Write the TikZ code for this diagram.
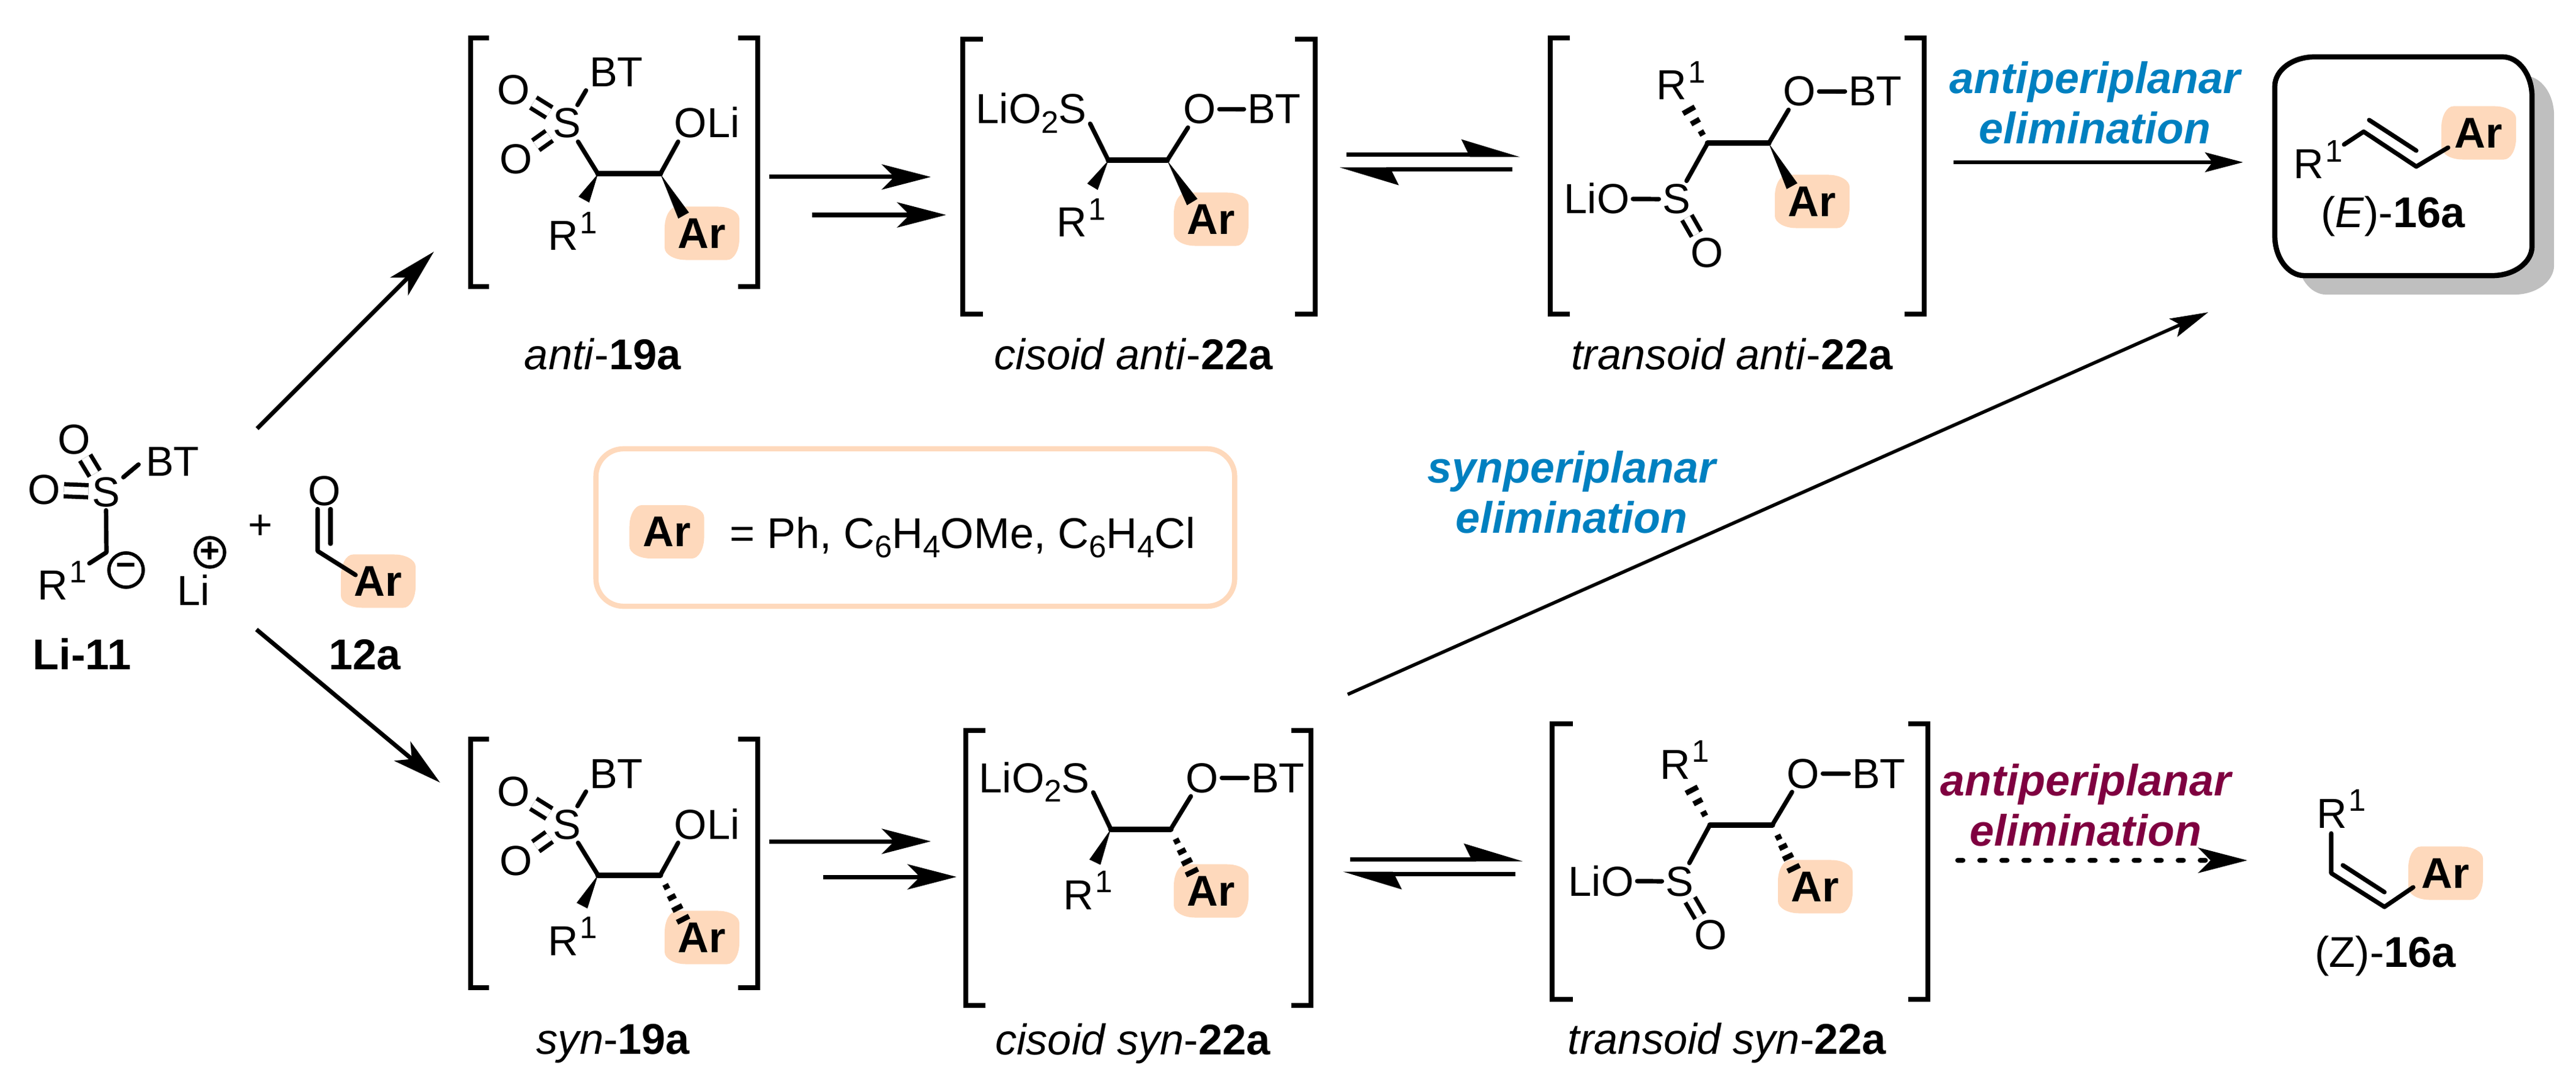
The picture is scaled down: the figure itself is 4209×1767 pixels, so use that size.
\documentclass[tikz,border=0pt]{standalone}
\usepackage{fontspec}
\setmainfont{Liberation Sans}
\usetikzlibrary{calc,arrows.meta,shadows}

\definecolor{pillcolor}{HTML}{FED9BC}
\definecolor{elimblue}{HTML}{0080C0}
\definecolor{elimred}{HTML}{7F0040}
\definecolor{shadowgray}{HTML}{BFBFBF}

\newcommand{\atomfont}{\fontsize{19.5}{23}\selectfont}
\newcommand{\namefont}{\fontsize{20}{24}\selectfont}
\newcommand{\lowernum}[1]{\raisebox{-0.22em}{\fontsize{14.5}{15}\selectfont #1}}
\newcommand{\raisenum}{\kern0.03em\raisebox{0.4em}{\fontsize{14.5}{15}\selectfont 1}}

\tikzset{
  atom/.style={font=\atomfont,inner sep=.05cm,anchor=base},
  atomw/.style={atom,anchor=base west},
  cpdname/.style={font=\namefont,inner sep=0pt,anchor=base},
  elimtext/.style={font=\fontsize{20.4}{23.5}\selectfont\bfseries\itshape,align=center,inner sep=0pt},
  barrel/.code={\pgfsetcornersarced{\pgfpoint{.2cm}{.35cm}}},
  wideround/.code={\pgfsetcornersarced{\pgfpoint{.65cm}{.48cm}}},
  arpill/.style={font=\namefont\bfseries,fill=pillcolor,barrel,minimum width=1.22cm,minimum height=.87cm,inner sep=0pt},
  chg/.style={draw,circle,line width=.055cm,inner sep=0pt,font=\fontsize{16}{16}\selectfont\bfseries},
  bond/.style={line width=.072cm,line cap=round,line join=round},
  cbond/.style={line width=.09cm,line cap=round},
  dbond/.style={double,double distance=.13cm,line width=.068cm},
  brk/.style={line width=.075cm,line join=miter},
  rxn/.style={line width=.07cm,-{Stealth[length=.8cm,width=.41cm,inset=.2cm]}},
  rxnthin/.style={line width=.055cm,-{Stealth[length=.62cm,width=.32cm,inset=.12cm]}},
  eqarrow/.style={line width=.07cm,-{Stealth[harpoon,length=.84cm,width=.5cm,inset=.12cm]}},
  dotarrow/.style={line width=.085cm,line cap=round,dash pattern=on .08cm off .28cm,-{Stealth[length=.8cm,width=.41cm,inset=.2cm]}}
}

\newcommand{\wedgebond}[2]{\fill (#1) -- ($(#2)!0.1cm!90:(#1)$) -- ($(#2)!0.1cm!-90:(#1)$) -- cycle;}
\newcommand{\hashbond}[3]{\foreach \hf/\hw in {#3}{
  \coordinate (hp) at ($(#1)!\hf!(#2)$);
  \draw[line width=.085cm] ($(hp)!\hw cm!90:(#2)$) -- ($(hp)!\hw cm!-90:(#2)$);}}

\begin{document}
\begin{tikzpicture}[x=.01cm,y=-.01cm]
\useasboundingbox (0,0) rectangle (4209,1767);

% starting materials
\node[atom] (liS) at (173,827) {S};
\node[atom] (liO1) at (121,741) {O};
\node[atom] (liO2) at (72,823) {O};
\node[atom] (liBT) at (282,777) {BT};
\node[atomw] (liR) at (56,979) {R\raisenum};
\node[chg,minimum size=.56cm] (liMinus) at (206,931) {−};
\node[chg,minimum size=.48cm] (liPlus) at (343,902) {+};
\node[atom] (liLi) at (316,988) {Li};
\node[cpdname,font=\namefont\bfseries] (liName) at (134,1093) {Li-11};
\coordinate (liC) at (174,902);
\coordinate (liRend) at (146,920);
\draw[dbond] (liS) -- (liO1);
\draw[dbond] (liS) -- (liO2);
\draw[bond,shorten >=.08cm] (liS) -- (liBT.west);
\draw[bond] (liS) -- (liC) -- (liRend);

\node[atom] (plus) at (426,880) {+};
\node[atom] (aldO) at (530,825) {O};
\node[arpill] (aldAr) at (618,949) {Ar};
\node[cpdname,font=\namefont\bfseries] (aldName) at (596,1093) {12a};
\coordinate (aldC) at (519,900);
\coordinate (aldD) at (540,888);
\coordinate (aldEnd) at (581,939);
\draw[bond] (aldO.south -| aldC) -- (aldC) -- (aldEnd);
\draw[bond] (aldO.south -| aldD) -- (aldD);

\coordinate (upS) at (420,700);
\coordinate (upE) at (709,411);
\coordinate (downS) at (419,1028);
\coordinate (downE) at (719,1278);
\draw[rxn] (upS) -- (upE);
\draw[rxn] (downS) -- (downE);

% anti-19a
\draw[brk] (799,62) -- (769,62) -- (769,468) -- (799,468);
\draw[brk] (1206,62) -- (1238,62) -- (1238,468) -- (1206,468);
\node[atom] (aS) at (926,225) {S};
\node[atom] (aBT) at (1007,142) {BT};
\node[atom] (aO1) at (839,171) {O};
\node[atom] (aO2) at (843,284) {O};
\node[atomw] (aOLi) at (1096,225) {OLi};
\node[atomw] (aR) at (890,409) {R\raisenum};
\node[arpill] (aAr) at (1147,381) {Ar};
\coordinate (aC1) at (977,284);
\coordinate (aC2) at (1079,284);
\draw[dbond] (aS) -- (aO1);
\draw[dbond] (aS) -- (aO2);
\draw[bond] (aS) -- (aBT.south west);
\draw[bond] (aS) -- (aC1);
\draw[bond] ([xshift=.12cm]aOLi.south west) -- (aC2);
\draw[cbond] (aC1) -- (aC2);
\coordinate (aW1) at (954,326);
\coordinate (aW2) at (1117,352);
\wedgebond{aC1}{aW1}
\wedgebond{aC2}{aW2}
\node[cpdname] (aName) at (985,603) {\textit{anti}-\textbf{19a}};

\coordinate (aA1) at (1257,289);
\coordinate (aA2) at (1521,289);
\coordinate (aB1) at (1327,351);
\coordinate (aB2) at (1546,351);
\draw[rxn] (aA1) -- (aA2);
\draw[rxn] (aB1) -- (aB2);

% syn-19a
\draw[brk] (799,1207) -- (769,1207) -- (769,1613) -- (799,1613);
\draw[brk] (1206,1207) -- (1238,1207) -- (1238,1613) -- (1206,1613);
\node[atom] (sS) at (926,1370) {S};
\node[atom] (sBT) at (1007,1287) {BT};
\node[atom] (sO1) at (839,1316) {O};
\node[atom] (sO2) at (843,1429) {O};
\node[atomw] (sOLi) at (1096,1370) {OLi};
\node[atomw] (sR) at (890,1560) {R\raisenum};
\node[arpill] (sAr) at (1147,1531) {Ar};
\coordinate (sC1) at (977,1429);
\coordinate (sC2) at (1079,1429);
\draw[dbond] (sS) -- (sO1);
\draw[dbond] (sS) -- (sO2);
\draw[bond] (sS) -- (sBT.south west);
\draw[bond] (sS) -- (sC1);
\draw[bond] ([xshift=.12cm]sOLi.south west) -- (sC2);
\draw[cbond] (sC1) -- (sC2);
\coordinate (sW1) at (951,1479);
\coordinate (sW2) at (1118,1505);
\wedgebond{sC1}{sW1}
\hashbond{sC2}{sW2}{.25/.05,.48/.07,.71/.09,.95/.11}
\node[cpdname] (sName) at (1002,1721) {\textit{syn}-\textbf{19a}};

\coordinate (sA1) at (1257,1374);
\coordinate (sA2) at (1521,1374);
\coordinate (sB1) at (1345,1432);
\coordinate (sB2) at (1563,1432);
\draw[rxn] (sA1) -- (sA2);
\draw[rxn] (sB1) -- (sB2);

% cisoid anti-22a
\draw[brk] (1606,64) -- (1573,64) -- (1573,513) -- (1606,513);
\draw[brk] (2116,64) -- (2149,64) -- (2149,513) -- (2116,513);
\node[atomw] (caS) at (1589,202) {LiO\lowernum{2}S};
\node[atom] (caO) at (1960,202) {O};
\node[atom] (caBT) at (2082,202) {BT};
\node[atomw] (caR) at (1721,387) {R\raisenum};
\node[arpill] (caAr) at (1979,358) {Ar};
\coordinate (caC1) at (1811,262);
\coordinate (caC2) at (1907,262);
\draw[bond] (caO) -- (caBT);
\draw[bond] (caO) -- (caC2);
\draw[bond] (caS.base east) -- (caC1);
\draw[cbond] (caC1) -- (caC2);
\coordinate (caW1) at (1785,305);
\coordinate (caW2) at (1948,330);
\wedgebond{caC1}{caW1}
\wedgebond{caC2}{caW2}
\node[cpdname] (caName) at (1852,603) {\textit{cisoid anti}-\textbf{22a}};

\coordinate (caE1) at (2200,253);
\coordinate (caE2) at (2484,253);
\coordinate (caE3) at (2471,277);
\coordinate (caE4) at (2189,277);
\draw[eqarrow] (caE1) -- (caE2);
\draw[eqarrow] (caE3) -- (caE4);

% cisoid syn-22a
\draw[brk] (1610,1193) -- (1578,1193) -- (1578,1642) -- (1610,1642);
\draw[brk] (2110,1193) -- (2142,1193) -- (2142,1642) -- (2110,1642);
\node[atomw] (csS) at (1594,1294) {LiO\lowernum{2}S};
\node[atom] (csO) at (1964,1294) {O};
\node[atom] (csBT) at (2088,1294) {BT};
\node[atomw] (csR) at (1732,1485) {R\raisenum};
\node[arpill] (csAr) at (1979,1455) {Ar};
\coordinate (csC1) at (1815,1354);
\coordinate (csC2) at (1913,1354);
\draw[bond] (csO) -- (csBT);
\draw[bond] (csO) -- (csC2);
\draw[bond] (csS.base east) -- (csC1);
\draw[cbond] (csC1) -- (csC2);
\coordinate (csW1) at (1789,1408);
\coordinate (csW2) at (1949,1427);
\wedgebond{csC1}{csW1}
\hashbond{csC2}{csW2}{.27/.05,.5/.07,.73/.09,.96/.11}
\node[cpdname] (csName) at (1851,1722) {\textit{cisoid syn}-\textbf{22a}};

\coordinate (csE1) at (2206,1403);
\coordinate (csE2) at (2488,1403);
\coordinate (csE3) at (2476,1427);
\coordinate (csE4) at (2194,1427);
\draw[eqarrow] (csE1) -- (csE2);
\draw[eqarrow] (csE3) -- (csE4);

% transoid anti-22a
\draw[brk] (2565,62) -- (2533,62) -- (2533,513) -- (2565,513);
\draw[brk] (3112,62) -- (3144,62) -- (3144,513) -- (3112,513);
\node[atomw] (taR) at (2701,163) {R\raisenum};
\node[atom] (taO) at (2940,173) {O};
\node[atom] (taBT) at (3064,173) {BT};
\node[atom] (taS) at (2739,349) {S};
\node[atom] (taLiO) at (2609,349) {LiO};
\node[atom] (taO2) at (2789,436) {O};
\node[arpill] (taAr) at (2961,329) {Ar};
\coordinate (taC1) at (2790,234);
\coordinate (taC2) at (2890,234);
\draw[bond] (taO) -- (taBT);
\draw[bond] (taO) -- (taC2);
\draw[bond] (taS) -- (taC1);
\draw[bond] (taLiO) -- (taS);
\draw[dbond,double distance=.11cm] (taS) -- (taO2);
\draw[cbond] (taC1) -- (taC2);
\coordinate (taW1) at (2755,172);
\coordinate (taW2) at (2928,304);
\hashbond{taC1}{taW1}{.27/.05,.57/.08,.87/.11}
\wedgebond{taC2}{taW2}
\node[cpdname] (taName) at (2830,603) {\textit{transoid anti}-\textbf{22a}};

% transoid syn-22a
\draw[brk] (2570,1182) -- (2536,1182) -- (2536,1632) -- (2570,1632);
\draw[brk] (3118,1182) -- (3150,1182) -- (3150,1632) -- (3118,1632);
\node[atomw] (tsR) at (2707,1272) {R\raisenum};
\node[atom] (tsO) at (2946,1287) {O};
\node[atom] (tsBT) at (3070,1287) {BT};
\node[atom] (tsS) at (2744,1463) {S};
\node[atom] (tsLiO) at (2616,1463) {LiO};
\node[atom] (tsO2) at (2795,1550) {O};
\node[arpill] (tsAr) at (2966,1448) {Ar};
\coordinate (tsC1) at (2794,1347);
\coordinate (tsC2) at (2896,1347);
\draw[bond] (tsO) -- (tsBT);
\draw[bond] (tsO) -- (tsC2);
\draw[bond] (tsS) -- (tsC1);
\draw[bond] (tsLiO) -- (tsS);
\draw[dbond,double distance=.11cm] (tsS) -- (tsO2);
\draw[cbond] (tsC1) -- (tsC2);
\coordinate (tsW1) at (2761,1284);
\coordinate (tsW2) at (2934,1425);
\hashbond{tsC1}{tsW1}{.29/.05,.6/.08,.9/.11}
\hashbond{tsC2}{tsW2}{.26/.05,.46/.07,.67/.09,.91/.11}
\node[cpdname] (tsName) at (2822,1721) {\textit{transoid syn}-\textbf{22a}};

% (E) product
\node[draw,line width=.085cm,wideround,minimum width=4.2cm,minimum height=3.57cm,
  drop shadow={shadow xshift=.36cm,shadow yshift=-.31cm,fill=shadowgray,fill opacity=1},fill=white] (eBox) at (3927,271.5) {};
\node[atomw] (eR) at (3742,292) {R\raisenum};
\node[arpill] (eAr) at (4050,217) {Ar};
\coordinate (eA) at (3830,236);
\coordinate (eC1) at (3862,215);
\coordinate (eC2) at (3948,272);
\coordinate (eD1) at (3871,196);
\coordinate (eD2) at (3948,246);
\coordinate (eEnd) at (4000,241);
\draw[bond] (eA) -- (eC1) -- (eC2) -- (eEnd);
\draw[bond] (eD1) -- (eD2);
\node[cpdname] (eName) at (3910,372) {(\textit{E})-\textbf{16a}};

\coordinate (eF1) at (3192,265);
\coordinate (eF2) at (3665,265);
\draw[rxnthin] (eF1) -- (eF2);
\node[elimtext,text=elimblue] (eElim) at (3423,168) {antiperiplanar\\elimination};

% (Z) product
\node[atomw] (zR) at (3780,1352) {R\raisenum};
\node[arpill] (zAr) at (3996,1426) {Ar};
\coordinate (zA) at (3809,1361);
\coordinate (zC1) at (3809,1426);
\coordinate (zC2) at (3896,1481);
\coordinate (zD1) at (3828,1413);
\coordinate (zD2) at (3896,1457);
\coordinate (zEnd) at (3943,1449);
\draw[bond] (zA) -- (zC1) -- (zC2) -- (zEnd);
\draw[bond] (zD1) -- (zD2);
\node[cpdname] (zName) at (3898,1579) {(Z)-\textbf{16a}};

\coordinate (zF1) at (3199,1405);
\coordinate (zF2) at (3672,1405);
\draw[dotarrow] (zF1) -- (zF2);
\node[elimtext,text=elimred] (zElim) at (3408,1315) {antiperiplanar\\elimination};

% syn elimination
\coordinate (synS) at (2202,1134);
\coordinate (synE) at (3608,510);
\draw[rxnthin] (synS) -- (synE);
\node[elimtext,text=elimblue] (synElim) at (2568,804) {synperiplanar\\elimination};

% Ar box
\node[draw=pillcolor,line width=.085cm,rounded corners=.45cm,minimum width=10.43cm,minimum height=2.57cm] (arBox) at (1495.5,861.5) {};
\node[arpill] (arKey) at (1089.5,868.5) {Ar};
\node[atomw,font=\namefont] (arText) at (1187,895) {= Ph, C\lowernum{6}H\lowernum{4}OMe, C\lowernum{6}H\lowernum{4}Cl};

\end{tikzpicture}
\end{document}
